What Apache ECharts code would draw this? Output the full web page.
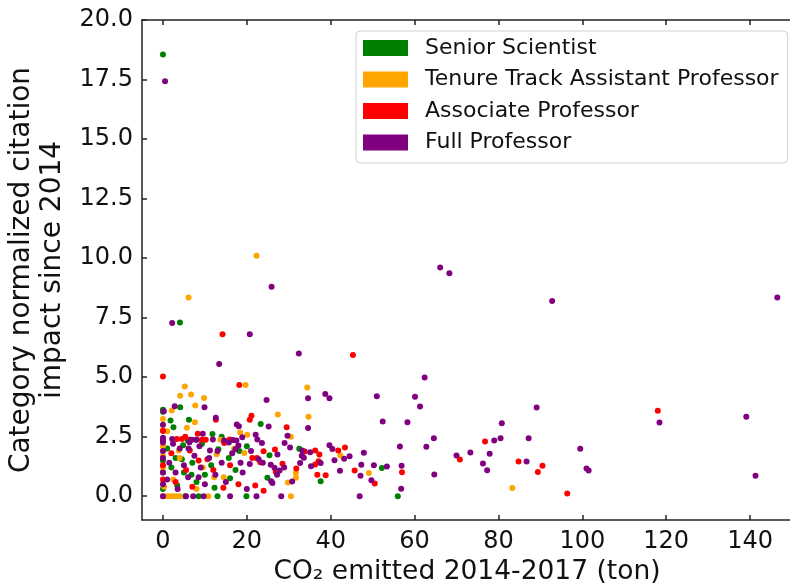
<!DOCTYPE html>
<html>
<head>
<meta charset="utf-8">
<script src="https://cdn.jsdelivr.net/npm/echarts@6/dist/echarts.min.js"></script>
<style>
html,body{margin:0;padding:0;background:#fff;}
#chart{width:790px;height:586px;}
</style>
</head>
<body>
<div id="chart"></div>
<script>
// ---- data ----
const seriesNames = ['Senior Scientist', 'Tenure Track Assistant Professor', 'Associate Professor', 'Full Professor'];
const xTicks = [0, 20, 40, 60, 80, 100, 120, 140];
const yTicks = [0, 2.5, 5, 7.5, 10, 12.5, 15, 17.5, 20];

const seniorScientist = [
  [0,18.55],[4.05,7.30],[23.3,3.03],[25.4,1.72],[32.5,1.99],[37.6,0.63],[24.9,0.77],[52.2,1.18],[56.0,0.0],
  [19.9,0],[13.0,0],[8.5,0],
  [0,3.63],[0,3.55],[4.1,3.74],[1.8,3.18],[6.2,3.21],[11.8,2.61],[5.9,2.35],[4.8,2.14],[9.3,2.2],[13.2,1.97],
  [0,1.5],[0,1.0],[2,1.2],[3,1.6],[4.5,1.55],[5,1.0],[6.8,0.9],[7,1.4],[8,0.6],[10,0.9],[11.5,1.3],[3.4,0.45],
  [16,0.75],[12.3,0.35],[15.7,1.6],[18.2,1.9],[20,2.1],[14,2.5],[1,2.0],[2.5,2.9],[0,0.3],[5.3,0],[17.3,1.1]
];
const tenureTrack = [
  [22.3,10.1],[6.1,8.34],[5.2,4.61],[19.7,4.67],[4.1,4.22],[6.7,4.27],[9.8,4.12],[7.7,3.81],[2.1,3.60],[0,3.24],
  [7.6,3.11],[5.7,2.87],[0,2.79],[1.0,2.73],[18.4,2.68],[20.1,2.58],[13.7,2.37],[34.4,4.56],[27.4,3.43],[34.7,3.34],
  [30.5,2.50],[42.3,1.71],[31.7,0.98],[31.7,0.77],[29.8,0.58],[30.5,0],[49.1,0.97],[83.3,0.34],[3.8,1.92],[12.8,1.76],
  [19.4,1.81],[0,0],[0.8,0],[1.6,0],[2.4,0],[3.2,0],[4.0,0],[10.8,0],[12.2,0.8],[2.5,0.7],[0,1.7],[0,2.1],[0,1.2],
  [4,1.6],[9.5,1.2],[14.5,0.8],[17,2.0],[8,0.3],[0.3,0.4]
];
const associateProf = [
  [14.2,6.8],[0,5.03],[45.3,5.93],[18.2,4.67],[12.6,3.21],[21.1,3.38],[20.7,3.21],[8.3,2.62],[0,2.74],[15.9,2.38],
  [14.6,2.23],[10.2,2.37],[3.3,2.4],[4.5,2.4],[5.3,2.5],[6.4,2.37],[9.3,2.37],[29.5,2.90],[24.0,1.89],[26.7,1.96],
  [33.8,1.88],[36.3,1.92],[37.3,1.75],[41.8,1.92],[43.4,2.05],[36.3,1.33],[37.1,1.47],[31.8,1.16],[36.8,0.90],[38.8,0.88],
  [45.7,1.08],[57.0,1.01],[50.5,0.53],[24.0,0.23],[26.9,1.03],[28.5,1.36],[23.2,1.43],[76.8,2.30],[70.8,1.54],[84.8,1.46],
  [90.5,1.28],[89.4,1.02],[96.4,0.11],[118.0,3.59],[6.4,1.92],[10.6,1.55],[21.3,1.60],[22.4,1.60],[22,0.45],[14.4,0.35],
  [0,1.3],[0,0.7],[2,1.8],[5.5,1.1],[8.5,1.5],[12,1.1],[16,1.3],[3,0.6],[18,0.5],[7,0.4]
];
const fullProf = [
  [0.5,17.43],[25.9,8.8],[2.2,7.27],[20.7,6.8],[13.4,5.55],[32.4,5.99],[38.7,4.29],[39.7,4.11],[34.6,4.11],[51.0,4.20],
  [24.7,4.04],[34.6,2.86],[52.4,3.14],[58.3,3.11],[25.2,2.93],[29.7,2.54],[29.0,2.23],[30.3,2.05],[23.6,2.23],[27.3,1.75],
  [33.2,1.92],[35.1,1.85],[33.1,1.70],[33.6,1.61],[39.7,2.14],[40.4,1.98],[40.9,1.51],[43.2,1.57],[44.5,1.68],[47.9,1.82],
  [56.5,2.09],[37.6,1.39],[35.3,1.26],[32.7,1.39],[30.8,0.62],[42.2,1.07],[47.3,1.32],[50.3,1.30],[53.4,1.25],[56.9,1.28],
  [47.1,0.86],[49.7,0.67],[56.8,0.31],[46.9,0],[28.2,0],[25.8,0.63],[26.1,0.55],[27.2,0.90],[27.8,1.08],[26.6,1.19],
  [25.7,1.32],[28.9,1.21],[23.8,1.40],[66.1,9.60],[68.3,9.36],[92.8,8.20],[62.4,4.98],[60.1,4.18],[61.3,3.77],[89.1,3.73],
  [80.8,3.06],[64.6,2.43],[62.8,2.08],[80.5,2.43],[87.2,2.43],[79.0,2.34],[99.5,1.99],[70.0,1.71],[73.3,1.84],[77.9,1.78],
  [76.3,1.37],[77.3,1.09],[86.7,1.46],[101.0,1.16],[101.5,1.08],[64.7,0.91],[146.5,8.34],[118.4,3.10],[139.1,3.34],[141.3,0.86],
  [9.9,3.74],[2.8,3.78],[0.2,3.57],[12.6,3.29],[17.6,3.01],[18.1,2.94],[9.5,2.62],[18.9,2.48],[22.1,2.58],[17.5,2.34],
  [22.5,2.38],[14.6,2.34],[15.7,2.26],[7.9,2.37],[0,2.45],[0,2.35],[2.2,2.4],[6.9,2.37],[8.0,2.37],[11.9,2.38],[16.7,2.36],
  [0,2.25],[2.4,2.2],[6.1,2.0],[6.3,2.27],[8.7,2.1],[11.2,1.92],[17.3,1.97],[18.0,2.13],[20.7,1.35],[22.8,1.55],
  [0,0],[5.5,0],[7.2,0],[9.7,0],[16.0,0],[22.3,0],[0,1.0],[0,1.6],[0,1.9],[0,3.0],[0,0.5],[1.5,1.4],[3,1.0],[4,2.0],
  [5,1.3],[6,0.8],[7.5,1.7],[9,1.2],[10,0.5],[11,1.6],[12.5,0.9],[14,1.4],[15,0.6],[16.5,1.8],[19,1.0],[20,0.3],[21,1.9],
  [3.5,0.3],[1,0.7],[8.5,0.8],[13,1.9],[18.5,1.4]
];
const seriesData = [seniorScientist, tenureTrack, associateProf, fullProf];
const colors = ['#008000', '#FFA500', '#FF0000', '#800080'];

// ---- chart ----
const FONT = 'DejaVu Sans';
const chart = echarts.init(document.getElementById('chart'), null, {renderer: 'canvas'});
const axisLineStyle = {color: '#222', width: 1.5};
const option = {
  animation: false,
  backgroundColor: '#fff',
  textStyle: {fontFamily: FONT},
  grid: {left: 142, top: 20, right: -2, bottom: 66, containLabel: false, outerBoundsMode: 'none'},
  legend: {
    orient: 'vertical',
    left: 356, top: 31,
    padding: [6, 9, 9.5, 7],
    itemWidth: 45, itemHeight: 16, itemGap: 9.5,
    icon: 'rect',
    borderColor: '#d0d0d0', borderWidth: 1, borderRadius: 4,
    backgroundColor: 'rgba(255,255,255,0.8)',
    textStyle: {fontFamily: FONT, fontSize: 22, color: '#111', padding: [0, 0, 0, 12]},
    data: seriesNames
  },
  xAxis: [{
    type: 'value', min: -5, max: 150, position: 'bottom',
    name: 'CO\u2082 emitted 2014-2017 (ton)', nameLocation: 'middle', nameGap: 38,
    nameTextStyle: {fontFamily: FONT, fontSize: 26.5, color: '#111'},
    axisLine: {show: true, onZero: false, lineStyle: axisLineStyle},
    axisTick: {show: true, inside: true, length: 5, customValues: xTicks, lineStyle: axisLineStyle},
    axisLabel: {show: true, customValues: xTicks, fontFamily: FONT, fontSize: 24, color: '#111', margin: 10},
    splitLine: {show: false}
  }, {
    type: 'value', min: -5, max: 150, position: 'top',
    axisLine: {show: true, onZero: false, lineStyle: axisLineStyle},
    axisTick: {show: true, inside: true, length: 5, customValues: xTicks, lineStyle: axisLineStyle},
    axisLabel: {show: false},
    splitLine: {show: false}
  }],
  yAxis: [{
    type: 'value', min: -1, max: 20, position: 'left',
    name: 'Category normalized citation\nimpact since 2014', nameLocation: 'middle', nameGap: 64, nameRotate: 90,
    nameTextStyle: {fontFamily: FONT, fontSize: 28, color: '#111', lineHeight: 31, align: 'center'},
    axisLine: {show: true, onZero: false, lineStyle: axisLineStyle},
    axisTick: {show: true, inside: true, length: 5, customValues: yTicks, lineStyle: axisLineStyle},
    axisLabel: {show: true, customValues: yTicks, fontFamily: FONT, fontSize: 24, color: '#111', margin: 9,
      formatter: v => Number(v).toFixed(1)},
    splitLine: {show: false}
  }],
  series: seriesNames.map((n, i) => ({
    name: n, type: 'scatter', xAxisIndex: 0, yAxisIndex: 0,
    data: seriesData[i], symbol: 'circle', symbolSize: 6,
    itemStyle: {color: colors[i], opacity: 1},
    emphasis: {disabled: true}
  }))
};
chart.setOption(option);
</script>
</body>
</html>
